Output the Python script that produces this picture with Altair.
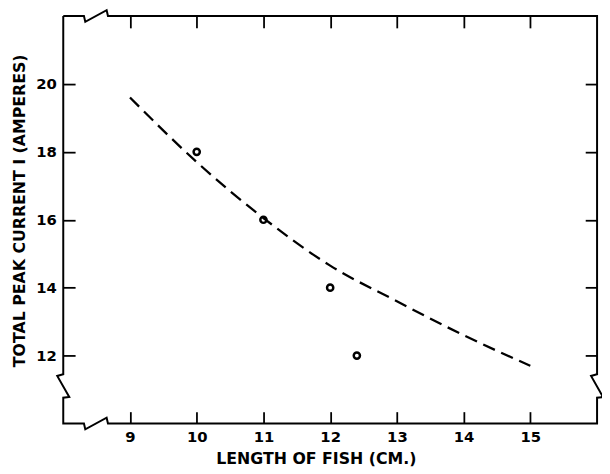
import altair as alt
import pandas as pd

# ---- data ----
x_ticks = [9, 10, 11, 12, 13, 14, 15]
y_ticks = [12, 14, 16, 18, 20]

obs_length = [10, 11, 12, 12.4]
obs_current = [18, 16, 14, 12]

fit_length = [9, 10, 11, 12, 13, 14, 15]
fit_current = [19.6, 17.7, 16.05, 14.65, 13.6, 12.6, 11.7]

x_domain = [8, 16]
y_domain = [10, 22]

# frame outline with axis-break zigzags (data coordinates)
frame_x = [8, 8, 7.91, 8.09, 8, 8,
           8.31, 8.33, 8.65, 8.67, 16,
           16, 16.09, 15.91, 16, 16,
           8.67, 8.65, 8.33, 8.31, 8]
frame_y = [22, 11.45, 11.40, 10.78, 10.76, 10,
           10, 9.83, 10.17, 10, 10,
           10.76, 10.78, 11.40, 11.45, 22,
           22, 22.17, 21.83, 22, 22]

frame_df = pd.DataFrame({"x": frame_x, "y": frame_y, "i": list(range(len(frame_x)))})
fit_df = pd.DataFrame({"x": fit_length, "y": fit_current})
obs_df = pd.DataFrame({"x": obs_length, "y": obs_current})

FONT = "DejaVu Sans"
xs = alt.Scale(domain=x_domain, nice=False, zero=False)
ys = alt.Scale(domain=y_domain, nice=False, zero=False)

common_axis = dict(domain=False, grid=False, tickSize=12, offset=-12, tickWidth=1.8,
                   tickColor="black", labelColor="black", labelFont=FONT,
                   labelFontSize=15, labelFontWeight="bold", labelFlush=False,
                   labelOverlap=False,
                   titleFont=FONT, titleFontSize=16, titleFontWeight="bold",
                   titleColor="black")

axis_bottom = alt.Axis(orient="bottom", values=x_ticks, labelPadding=6,
                       title="LENGTH OF FISH (CM.)", titlePadding=7, titleX=256,
                       **common_axis)
axis_left = alt.Axis(orient="left", values=y_ticks, labelPadding=7,
                     title="TOTAL PEAK CURRENT I (AMPERES)", titlePadding=8, titleY=197,
                     **common_axis)
axis_top = alt.Axis(orient="top", values=x_ticks, labels=False, title=None, **common_axis)
axis_right = alt.Axis(orient="right", values=y_ticks, labels=False, title=None, **common_axis)

frame = alt.Chart(frame_df).mark_line(
    color="black", strokeWidth=2, clip=False, strokeJoin="miter"
).encode(
    x=alt.X("x:Q", scale=xs, axis=axis_bottom),
    y=alt.Y("y:Q", scale=ys, axis=axis_left),
    order="i:Q",
)

curve = alt.Chart(fit_df).mark_line(
    color="black", strokeWidth=2.3, strokeDash=[13, 7], interpolate="monotone"
).encode(
    x=alt.X("x:Q", scale=xs, axis=axis_top),
    y=alt.Y("y:Q", scale=ys, axis=axis_right),
)

points = alt.Chart(obs_df).mark_point(
    shape="circle", filled=False, size=40, strokeWidth=2.5, color="black", opacity=1
).encode(
    x=alt.X("x:Q", scale=xs, axis=None),
    y=alt.Y("y:Q", scale=ys, axis=None),
)

chart = alt.layer(frame, curve, points).resolve_axis(
    x="independent", y="independent"
).properties(
    width=541, height=413,
    autosize=alt.AutoSizeParams(type="none"),
    padding={"left": 56, "top": 5, "right": 5, "bottom": 44},
    background="white",
).configure_view(stroke=None)

chart.save("out.html", embed_options={"renderer": "svg", "actions": False})
